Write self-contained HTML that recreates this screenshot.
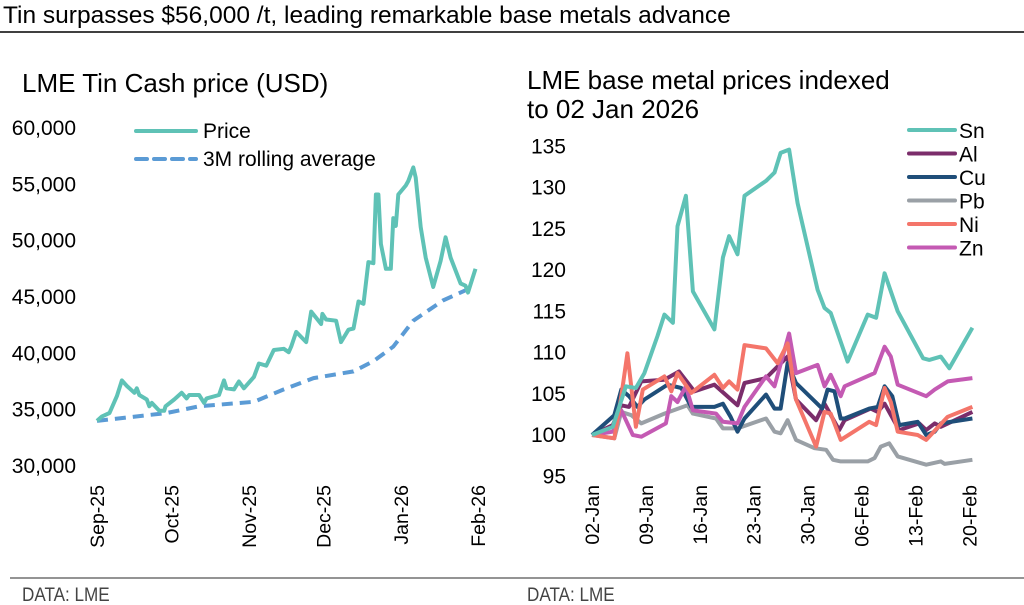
<!DOCTYPE html>
<html><head><meta charset="utf-8"><style>
body{margin:0;background:#fff;}
svg{display:block;font-family:"Liberation Sans",sans-serif;}
</style></head><body>
<svg id="c" width="1024" height="605" viewBox="0 0 1024 605">
<text x="3" y="23" font-size="24.5" fill="#000">Tin surpasses $56,000 /t, leading remarkable base metals advance</text>
<line x1="0" y1="32" x2="1024" y2="32" stroke="#000" stroke-width="1.5"/>
<text x="22" y="92" font-size="26">LME Tin Cash price (USD)</text>
<text x="527" y="89" font-size="26">LME base metal prices indexed</text>
<text x="527" y="118" font-size="26">to 02 Jan 2026</text>
<line x1="10" y1="578" x2="1024" y2="578" stroke="#555" stroke-width="1.2"/>
<text x="22" y="601" font-size="19" fill="#444" transform="translate(22 0) scale(0.9 1) translate(-22 0)">DATA: LME</text>
<text x="527" y="601" font-size="19" fill="#444" transform="translate(527 0) scale(0.9 1) translate(-527 0)">DATA: LME</text>
<g id="left"></g>
<g id="right"></g>
</svg>
<script>
const tinYTicks=[30000,35000,40000,45000,50000,55000,60000];
const tinMonthLabels=["Sep-25","Oct-25","Nov-25","Dec-25","Jan-26","Feb-26"];
const tinMonthDays=[0,30,61,91,122,153];
const priceDays=[0,2,5,8,10,12,15,16,17,20,21,22,25,27,27.5,31,34,36,37,41,43,44,49,51,52,55,57,59,63,65,68,71,75,77,78,80,84,86,90,90.5,92,96,98,101,103,105,107,109,111,112,113,114,116,118,119,120,121,124,125,127,128,130,132,135,138,140,142,146,148,149,152];
const priceValues=[34000,34400,34700,36200,37600,37100,36500,36900,36300,35900,35300,35600,34900,34900,35300,35900,36500,36000,36300,36300,35600,36000,36300,37600,36900,36800,37500,36900,37900,39100,38900,40300,40400,40100,40600,41900,41000,43700,42600,43500,43000,42900,41000,42100,42200,44600,44400,48100,48000,54100,54100,49700,47500,47500,52000,51300,54100,54900,55300,56500,55600,51200,48500,45900,48200,50300,48500,46200,46000,45400,47500];
const avgDays=[0,28,41,63,75,87,103,111,119,127,139,151];
const avgValues=[34000,34700,35300,35700,36800,37800,38400,39300,40600,42900,44700,45900];

const idxYTicks=[95,100,105,110,115,120,125,130,135];
const idxDateLabels=["02-Jan","09-Jan","16-Jan","23-Jan","30-Jan","06-Feb","13-Feb","20-Feb"];
const idxDateDays=[0,7,14,21,28,35,42,49];
const snDays=[0,2.7,4.4,5.7,6.8,8.5,9.4,10.5,11.1,12.2,13.1,15.9,17,17.8,18.9,19.8,22.6,23.7,24.5,25.6,26.7,29.3,30.2,31,33.2,35.8,36.9,38,39.7,43,43.8,45.3,46.4,49.4];
const snValues=[100,101,105.9,105.7,107.5,112,114.6,113.6,125.3,129,117.4,112.8,121.5,124.1,121.9,129,130.8,131.8,134.2,134.6,128.1,117.6,115.4,114.8,108.9,114.6,114.2,119.6,115,109.3,109.1,109.5,108.1,113];
const alDays=[0,2.7,3.8,4.8,6.4,9.4,11.3,13.3,15.9,18.9,19.8,22.6,25.4,26.5,29.1,30.2,32.1,32.8,36.2,37.1,38,39.9,42.5,43.4,44.5,45.3,49.4];
const alValues=[100,101.2,103.6,103.4,106.5,106.7,107.7,105.3,106.1,103.6,106.3,106.9,109.5,104.3,101.8,103.8,100.6,101.8,103.2,102.8,103.8,100.6,101.4,100.6,101.4,101,102.8];
const cuDays=[0,2.9,3.8,4.8,5.9,6.8,9.8,11.6,12.9,15.9,17,18,18.9,19.8,22.6,23.7,24.5,25.4,26.5,29.9,30.6,31.5,32.3,32.8,36,37.1,38,39,39.9,42.3,43.4,44.5,45.3,49.4];
const cuValues=[100,102.4,105.5,104.7,103.4,104.3,106.1,105.7,103.4,103.4,103.8,102.2,100.4,102,104.9,103.2,103.2,108.7,106.3,103.2,105.5,105.3,102,102,103.2,103.4,105.9,104.7,101.2,101.6,100,100.4,101.4,102];
const pbDays=[0,2.9,3.8,5.1,6.4,9.4,12.4,13.1,16.1,17,18.9,22.6,23.7,24.5,25.4,26.5,28.9,30.4,31.3,32.3,35.8,36.7,37.5,38.6,39.7,43.4,45.3,45.8,49.4];
const pbValues=[100,99.6,102.8,102.4,101.4,102.6,103.6,102.6,102,100.8,100.8,102,100.4,100.2,101.8,99.4,98.4,98.2,97,96.8,96.8,97.2,98.6,99,97.4,96.4,96.8,96.5,97];
const niDays=[0,2.9,3.8,4.6,5.7,6.6,9.4,10.3,11.1,12.9,15.9,17,17.8,18.9,19.8,22.6,24.1,25.4,26.5,29.1,30.2,31,32.3,36,36.9,38,38.8,39.7,42.3,43.4,46.2,49.4];
const niValues=[100,99.6,104.7,109.9,101,105.5,107.1,105.3,107.5,105.1,107.3,105.7,106.5,105.5,110.9,110.5,108.7,111.1,104.3,98.6,102.8,102.6,99.4,101.6,101.2,105.7,104,100.4,100,99.4,102.2,103.4];
const znDays=[0,2.7,3.8,5.3,6.4,9.6,10.3,11.1,12.2,13.1,16.1,17,18.9,19.8,22.6,23.7,25.6,26.5,29.3,30.2,31,32.3,32.8,36.7,38,38.8,39.7,43.4,44.5,46.2,49.4];
const znValues=[100,100.4,103,100,99.8,101.4,104.7,104,105.9,103,102.6,101.6,101.4,103.4,107.1,105.9,112.3,107.5,108.5,105.9,107.3,104.7,105.9,107.5,110.7,109.5,106.1,104.7,105.5,106.5,106.9];
const metalNames=["Sn","Al","Cu","Pb","Ni","Zn"];

const NS="http://www.w3.org/2000/svg";
function mk(tag,parent,attrs){const e=document.createElementNS(NS,tag);for(const k in attrs)e.setAttribute(k,attrs[k]);parent.appendChild(e);return e;}

// Left chart
const L=document.getElementById('left');
const lx=d=>97+d*(381/153);
const ly=v=>466-(v-30000)/30000*338;
tinYTicks.forEach(v=>{const t=mk('text',L,{x:76,y:ly(v)+7,'font-size':21,'text-anchor':'end'});t.textContent=v.toLocaleString('en-US');

});
tinMonthLabels.forEach((s,i)=>{const x=lx(tinMonthDays[i]);const t=mk('text',L,{x:0,y:0,'font-size':19.5,'text-anchor':'end',transform:`translate(${x+7} 485) rotate(-90)`});t.textContent=s;

});
const avgPath=mk('path',L,{d:avgDays.map((d,i)=>(i?'L':'M')+lx(d).toFixed(1)+' '+ly(avgValues[i]).toFixed(1)).join(''),fill:'none',stroke:'#5b9bd5','stroke-width':4,'stroke-dasharray':'11 7'});


const pricePath=mk('path',L,{d:priceDays.map((d,i)=>(i?'L':'M')+lx(d).toFixed(1)+' '+ly(priceValues[i]).toFixed(1)).join(''),fill:'none',stroke:'#5fc2b6','stroke-width':4,'stroke-linejoin':'round'});


const lg1=mk('line',L,{x1:136,y1:131,x2:196,y2:131,stroke:'#5fc2b6','stroke-width':4,'stroke-linecap':'round'});


const lt1=mk('text',L,{x:203,y:138,'font-size':21});lt1.textContent='Price';


const lg2=mk('line',L,{x1:136,y1:159,x2:196,y2:159,stroke:'#5b9bd5','stroke-width':4,'stroke-dasharray':'11 7','stroke-linecap':'round'});


const lt2=mk('text',L,{x:203,y:166,'font-size':21});lt2.textContent='3M rolling average';



// Right chart
const R=document.getElementById('right');
const rx=d=>592+d*7.7;
const ry=v=>435-(v-100)*8.25;
idxYTicks.forEach(v=>{const t=mk('text',R,{x:566,y:ry(v)+7,'font-size':21,'text-anchor':'end'});t.textContent=v;

});
idxDateLabels.forEach((s,i)=>{const x=rx(idxDateDays[i]);const t=mk('text',R,{x:0,y:0,'font-size':19.5,'text-anchor':'end',transform:`translate(${x+7} 485) rotate(-90)`});t.textContent=s;

});
const series=[[pbDays,pbValues,'#9aa0a6','Pb'],[alDays,alValues,'#7b2d6b','Al'],[cuDays,cuValues,'#1f4e79','Cu'],[znDays,znValues,'#c45ab3','Zn'],[niDays,niValues,'#f4756a','Ni'],[snDays,snValues,'#5fc2b6','Sn']];
series.forEach(s=>{const p=mk('path',R,{d:s[0].map((d,i)=>(i?'L':'M')+rx(d).toFixed(1)+' '+ry(s[1][i]).toFixed(1)).join(''),fill:'none',stroke:s[2],'stroke-width':4,'stroke-linejoin':'round'});

});
const colors={Sn:'#5fc2b6',Al:'#7b2d6b',Cu:'#1f4e79',Pb:'#9aa0a6',Ni:'#f4756a',Zn:'#c45ab3'};
metalNames.forEach((n,i)=>{const y=130+i*23.5;
const l=mk('line',R,{x1:909,y1:y,x2:955,y2:y,stroke:colors[n],'stroke-width':4,'stroke-linecap':'round'});


const t=mk('text',R,{x:959,y:y+8,'font-size':21});t.textContent=n;

});
</script>
</body></html>
